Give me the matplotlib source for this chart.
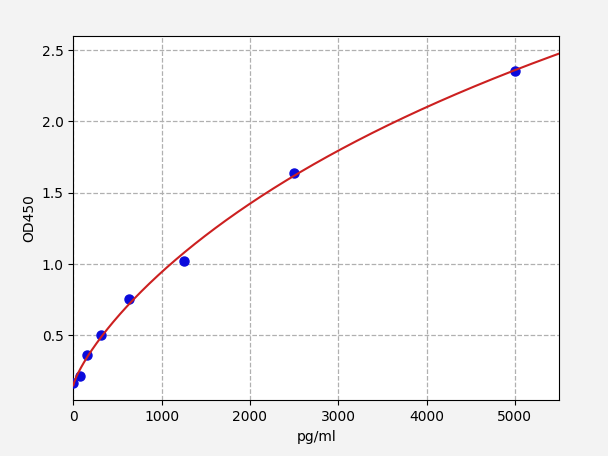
import numpy as np
import matplotlib
matplotlib.use("Agg")
import matplotlib.pyplot as plt

# Standard concentrations (pg/ml) and measured OD450
conc = [0, 78.125, 156.25, 312.5, 625, 1250, 2500, 5000]
od = [0.165, 0.216, 0.362, 0.500, 0.756, 1.024, 1.641, 2.356]
x_ticks = [0, 1000, 2000, 3000, 4000, 5000]
y_ticks = [0.5, 1.0, 1.5, 2.0, 2.5]

xd = np.array(conc, dtype=float)
yd = np.array(od, dtype=float)


def fit_4pl(x, y):
    """Four-parameter logistic fit via grid search on (b, c) and linear LS for (a, d)."""
    best = None
    for b in np.linspace(0.3, 2.5, 111):
        for c in np.geomspace(200, 200000, 300):
            g = 1.0 / (1.0 + (x / c) ** b)
            A = np.column_stack([g, 1 - g])
            coef, *_ = np.linalg.lstsq(A, y, rcond=None)
            r = np.sum((A @ coef - y) ** 2)
            if best is None or r < best[0]:
                best = (r, coef[0], b, c, coef[1])
    _, a, b, c, d = best
    return a, b, c, d


a, b, c, d = fit_4pl(xd, yd)
xs = np.linspace(0, 5500, 500)
ys = d + (a - d) / (1.0 + (xs / c) ** b)

fig = plt.figure(figsize=(6.08, 4.561), dpi=100, facecolor="#f3f3f3")
ax = fig.add_axes([0.1206, 0.1217, 0.7989, 0.7987])
ax.set_facecolor("white")
ax.grid(True, linestyle="--", color="#b0b0b0", linewidth=0.9)
ax.set_axisbelow(True)
ax.plot(xd, yd, "o", color="#0a0adc", markersize=6.5, zorder=3)
ax.plot(xs, ys, color="#cc2020", linewidth=1.5, zorder=4)
ax.set_xlim(0, 5500)
ax.set_ylim(0.044, 2.597)
ax.set_xticks(x_ticks)
ax.set_yticks(y_ticks)
ax.set_xlabel("pg/ml")
ax.set_ylabel("OD450")
fig.savefig("out.png", dpi=100, facecolor=fig.get_facecolor())
